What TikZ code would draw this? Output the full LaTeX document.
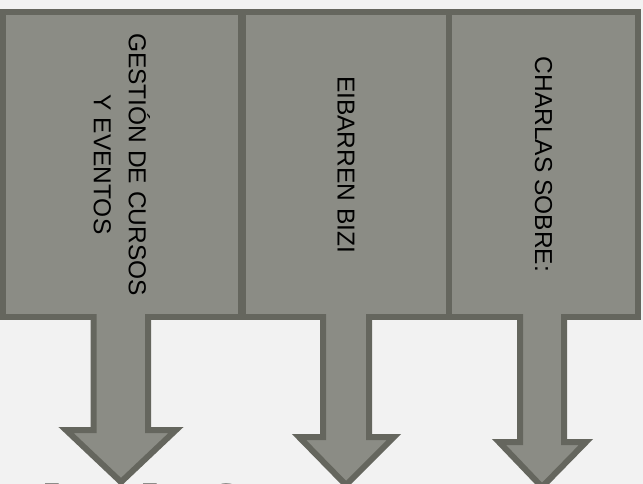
\documentclass[tikz,border=0pt]{standalone}
\usepackage{fontspec}
\setmainfont{Liberation Sans}
\definecolor{bg}{HTML}{F2F2F2}
\definecolor{boxfill}{HTML}{8B8C85}
\definecolor{boxline}{HTML}{65665E}
\definecolor{ink}{HTML}{1A1A14}
\begin{document}
\begin{tikzpicture}[x=1pt,y=-1pt,
  panel/.style={draw=boxline, fill=boxfill, line width=6pt, inner sep=0, minimum height=305},
  lbl/.style={rotate=-90, font=\fontsize{24.5}{35}\selectfont, align=center, text=black, inner sep=0},
  arrowbody/.style={fill=boxfill, draw=none},
  arrowedge/.style={draw=boxline, line width=6pt, miter limit=10},
  big/.style={font=\fontsize{100}{100}\selectfont\bfseries, text=ink, inner sep=0, anchor=base}]
\useasboundingbox (0,0) rectangle (643,484);
\fill[bg] (0,0) rectangle (643,484);
\clip (0,0) rectangle (643,484);
% panels
\node[panel, minimum width=238] (b1) at (122,164.5) {};
\node[panel, minimum width=206] (b2) at (346,164.5) {};
\node[panel, minimum width=189] (b3) at (543.5,164.5) {};
% labels
\node[lbl] (t1) at (b1.center) {GESTIÓN DE CURSOS\\Y EVENTOS};
\node[lbl] (t2) at (b2.center) {EIBARREN BIZI};
\node[lbl] (t3) at (b3.center) {CHARLAS SOBRE:};
% large text cut by the lower edge
\node[big] (g1) at (52.5,556) {l};
\node[big] (g2) at (150,556) {l};
\node[big] (g3) at (218.5,556) {f};
% arrow 1
\fill[arrowbody] (93.5,311) -- (93.5,430) -- (66,430) -- (121,482) -- (176,430) -- (148,430) -- (148,311) -- cycle;
\draw[arrowedge] (93.5,314) -- (93.5,430) -- (66,430) -- (121,482) -- (176,430) -- (148,430) -- (148,314);
% arrow 2
\fill[arrowbody] (323,311) -- (323,437) -- (299,437) -- (346,485) -- (394,437) -- (369,437) -- (369,311) -- cycle;
\draw[arrowedge] (323,314) -- (323,437) -- (299,437) -- (346,485) -- (394,437) -- (369,437) -- (369,314);
% arrow 3
\fill[arrowbody] (520,311) -- (520,442) -- (499,442) -- (542,487) -- (586,442) -- (564,442) -- (564,311) -- cycle;
\draw[arrowedge] (520,314) -- (520,442) -- (499,442) -- (542,487) -- (586,442) -- (564,442) -- (564,314);
\end{tikzpicture}
\end{document}
